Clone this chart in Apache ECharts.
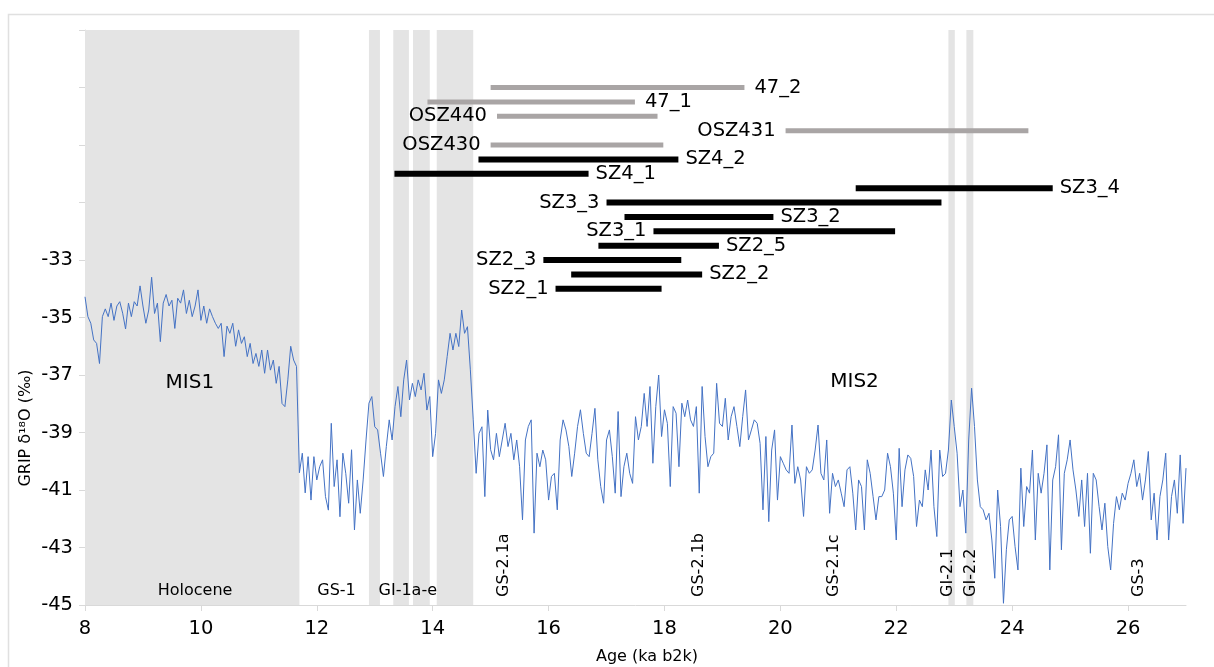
<!DOCTYPE html>
<html>
<head>
<meta charset="utf-8">
<script src="https://cdn.jsdelivr.net/npm/echarts@6/dist/echarts.min.js"></script>
<style>
html,body{margin:0;padding:0;background:#fff;}
#c{width:1214px;height:667px;}
</style>
</head>
<body>
<div id="c"></div>
<script>
// ---------------- DATA ----------------
// GRIP d18O record, sampled every 0.05 ka from 8.00 ka b2k
const AGE_START = 8.0;
const AGE_STEP = 0.05;
const d18O = [
  // 8.00 - 8.45
  -34.28, -34.97, -35.2, -35.78, -35.9, -36.6, -34.97, -34.7, -34.97, -34.5,
  // 8.50 - 8.95
  -35.1, -34.6, -34.45, -34.85, -35.4, -34.5, -34.97, -34.45, -34.6, -33.9,
  // 9.00 - 9.45
  -34.6, -35.2, -34.74, -33.6, -34.86, -34.5, -35.84, -34.5, -34.2, -34.6,
  // 9.50 - 9.95
  -34.4, -35.38, -34.33, -34.5, -34.04, -34.86, -34.4, -34.97, -34.6, -34.04,
  // 10.00 - 10.45
  -35.1, -34.6, -35.2, -34.7, -34.97, -35.2, -35.38, -35.2, -36.36, -35.3,
  // 10.50 - 10.95
  -35.55, -35.2, -36.0, -35.43, -35.9, -35.67, -36.36, -35.9, -36.6, -36.25,
  // 11.00 - 11.45
  -36.7, -36.13, -36.94, -36.13, -36.83, -36.48, -37.29, -36.7, -37.99, -38.1,
  // 11.50 - 11.70
  -37.17, -36.0, -36.48, -36.7, -40.4,
  // 11.75 - 12.20
  -39.72, -41.1, -39.84, -41.35, -39.84, -40.65, -40.19, -39.95, -41.23, -41.7,
  // 12.25 - 12.70
  -38.68, -40.88, -39.95, -41.93, -39.72, -40.42, -41.46, -39.6, -42.39, -40.65,
  // 12.75 - 13.20
  -41.81, -40.65, -39.26, -37.98, -37.75, -38.8, -38.91, -39.72, -40.53, -39.49,
  // 13.25 - 13.70
  -38.56, -39.26, -38.1, -37.4, -38.45, -37.17, -36.48, -37.87, -37.29, -37.75,
  // 13.75 - 14.20
  -37.17, -37.52, -36.94, -38.22, -37.75, -39.84, -39.03, -37.17, -37.64, -37.17,
  // 14.25 - 14.70
  -36.36, -35.55, -36.13, -35.55, -36.01, -34.74, -35.55, -35.32, -36.82, -38.56,
  // 14.75 - 15.20
  -40.42, -39.03, -38.8, -41.23, -38.22, -39.6, -39.95, -39.03, -39.84, -39.26,
  // 15.25 - 15.45
  -38.68, -39.49, -39.03, -39.95, -39.26,
  // 15.50 - 15.95
  -40.19, -42.04, -39.26, -38.79, -38.56, -42.5, -39.72, -40.19, -39.61, -39.95,
  // 16.00 - 16.45
  -41.35, -40.53, -40.42, -41.69, -39.26, -38.56, -38.91, -39.49, -40.53, -39.72,
  // 16.50 - 16.95
  -38.79, -38.21, -39.03, -39.72, -39.84, -39.03, -38.16, -39.95, -40.88, -41.46,
  // 17.00 - 17.45
  -39.26, -38.91, -39.84, -41.11, -38.27, -41.23, -40.19, -39.72, -40.42, -40.77,
  // 17.50 - 17.95
  -38.45, -39.26, -38.79, -37.64, -38.79, -37.4, -40.07, -38.1, -37.0, -39.14,
  // 18.00 - 18.45
  -38.21, -38.68, -40.88, -38.1, -38.33, -40.19, -37.98, -38.45, -37.87, -38.56,
  // 18.50 - 18.95
  -38.79, -38.1, -41.11, -37.4, -39.14, -40.19, -39.84, -39.72, -37.29, -38.68,
  // 19.00 - 19.45
  -38.79, -37.81, -39.26, -38.45, -38.1, -38.79, -39.49, -38.45, -37.52, -39.26,
  // 19.50 - 19.95
  -38.91, -38.56, -38.68, -39.38, -41.69, -39.14, -42.1, -39.61, -38.91, -41.35,
  // 20.00 - 20.45
  -39.84, -40.07, -40.3, -40.42, -38.74, -40.77, -40.19, -40.65, -41.92, -40.19,
  // 20.50 - 20.95
  -40.42, -40.3, -39.61, -38.74, -40.42, -40.65, -39.26, -41.81, -40.42, -40.88,
  // 21.00 - 21.35
  -40.65, -41.11, -41.58, -40.3, -40.19, -41.11, -42.39, -40.65,
  // 21.40 - 21.85
  -40.88, -42.39, -39.95, -40.42, -41.23, -42.04, -41.23, -41.23, -41.0, -39.72,
  // 21.90 - 22.35
  -40.19, -41.11, -42.74, -39.55, -41.58, -40.3, -39.78, -39.9, -40.53, -42.27,
  // 22.40 - 22.85
  -41.35, -41.58, -40.3, -41.0, -39.61, -41.58, -42.62, -39.61, -40.53, -40.42,
  // 22.90 - 23.35
  -39.61, -37.87, -38.79, -39.72, -41.58, -41.0, -42.5, -39.26, -37.46, -38.79,
  // 23.40 - 23.85
  -40.65, -41.58, -41.69, -42.04, -41.81, -42.74, -44.07, -41.0, -42.27, -44.94,
  // 23.90 - 24.35
  -43.08, -42.04, -41.92, -42.97, -43.78, -40.24, -42.27, -40.88, -41.11, -39.61,
  // 24.40 - 24.85
  -42.74, -40.42, -41.11, -40.42, -39.43, -43.78, -40.65, -40.19, -39.08, -43.08,
  // 24.90 - 25.35
  -40.42, -39.95, -39.26, -40.3, -41.0, -41.92, -40.65, -42.27, -40.42, -43.2,
  // 25.40 - 25.85
  -40.42, -40.65, -41.58, -42.39, -41.46, -42.97, -43.78, -42.16, -41.23, -41.69,
  // 25.90 - 26.35
  -41.11, -41.35, -40.77, -40.42, -39.95, -40.88, -40.42, -41.35, -40.65, -39.66,
  // 26.40 - 26.85
  -42.04, -41.11, -42.74, -41.23, -40.65, -39.72, -42.74, -41.23, -40.65, -41.81,
  // 26.90 - 27.00
  -39.78, -42.16, -40.24
];

// Shaded stadial/interstadial bands (ka b2k)
const bandStart = [8.0, 12.9, 13.32, 13.66, 14.07, 22.9, 23.21];
const bandEnd   = [11.7, 13.09, 13.59, 13.95, 14.7, 23.01, 23.33];

// Sample age ranges (ka b2k)
const sampleNames = ['47_2', '47_1', 'OSZ440', 'OSZ431', 'OSZ430', 'SZ4_2', 'SZ4_1', 'SZ3_4',
                     'SZ3_3', 'SZ3_2', 'SZ3_1', 'SZ2_5', 'SZ2_3', 'SZ2_2', 'SZ2_1'];
const sampleStart = [15.0, 13.91, 15.11, 20.09, 15.0, 14.79, 13.34, 21.3,
                     17.0, 17.31, 17.81, 16.86, 15.91, 16.39, 16.12];
const sampleEnd   = [19.38, 17.49, 17.88, 24.28, 17.98, 18.24, 16.69, 24.7,
                     22.78, 19.88, 21.98, 18.94, 18.29, 18.65, 17.95];
const sampleLevel = [-27, -27.5, -28, -28.5, -29, -29.5, -30, -30.5,
                     -31, -31.5, -32, -32.5, -33, -33.5, -34];
const sampleGroup = ['grey', 'grey', 'grey', 'grey', 'grey', 'black', 'black', 'black',
                     'black', 'black', 'black', 'black', 'black', 'black', 'black'];

// Tick labels
const xTicks = [8, 10, 12, 14, 16, 18, 20, 22, 24, 26];
const yTicks = [-45, -43, -41, -39, -37, -35, -33, -31, -29, -27, -25];
const yTickLabels = [-45, -43, -41, -39, -37, -35, -33];

// Period annotations
const periodNames = ['MIS1', 'MIS2', 'Holocene', 'GS-1', 'GI-1a-e',
                     'GS-2.1a', 'GS-2.1b', 'GS-2.1c', 'GI-2.1', 'GI-2.2', 'GS-3'];

// ---------------- LAYOUT / STYLE ----------------
const FONT = '"DejaVu Sans", Verdana, sans-serif';
const labelSide = ['right', 'right', 'left', 'left', 'left', 'right', 'right', 'right',
                   'left', 'right', 'left', 'right', 'left', 'right', 'left'];
const periodPos = [
  [9.81, -37.28, 0, 20], [21.28, -37.24, 0, 20], [9.9, -44.51, 0, 16],
  [12.34, -44.51, 0, 16], [13.57, -44.51, 0, 16],
  [15.22, -44.72, 90, 16], [18.6, -44.72, 90, 16], [20.93, -44.72, 90, 16],
  [22.89, -44.72, 90, 16], [23.28, -44.72, 90, 16], [26.19, -44.72, 90, 16]
];

const ages = d18O.map((_, i) => +(AGE_START + i * AGE_STEP).toFixed(2));
const lineData = ages.map((a, i) => [a, d18O[i]]);
const bandData = bandStart.map((s, i) => [{ xAxis: s }, { xAxis: bandEnd[i] }]);
const sampleData = sampleNames.map((n, i) => [sampleStart[i], sampleEnd[i], sampleLevel[i], i]);
const periodData = periodNames.map((n, i) => [periodPos[i][0], periodPos[i][1], i]);

const chart = echarts.init(document.getElementById('c'), null, { renderer: 'canvas' });

const option = {
  animation: false,
  backgroundColor: '#ffffff',
  textStyle: { fontFamily: FONT },
  grid: { left: 85, right: 28, top: 30, bottom: 62, containLabel: false },
  xAxis: {
    type: 'value', min: 8, max: 27,
    axisLine: { show: true, lineStyle: { color: '#d9d9d9', width: 1 } },
    axisTick: { show: true, length: 6, lineStyle: { color: '#d9d9d9' }, customValues: xTicks },
    axisLabel: { customValues: xTicks, margin: 14, fontSize: 19.5, color: '#000', fontFamily: FONT },
    splitLine: { show: false }
  },
  yAxis: {
    type: 'value', min: -45, max: -25,
    axisLine: { show: true, lineStyle: { color: '#d9d9d9', width: 1 } },
    axisTick: { show: true, length: 6, lineStyle: { color: '#d9d9d9' }, customValues: yTicks },
    axisLabel: { customValues: yTickLabels, margin: 12, fontSize: 19.5, color: '#000', fontFamily: FONT },
    splitLine: { show: false }
  },
  graphic: [
    { type: 'rect', z: -10, shape: { x: 8.5, y: 14.5, width: 1240, height: 700 },
      style: { fill: 'none', stroke: '#e0e0e0', lineWidth: 1.5 } },
    { type: 'text', x: 26, y: 428, rotation: Math.PI / 2,
      style: { text: 'GRIP δ¹⁸O (‰)', font: '16px ' + FONT, fill: '#000', align: 'center', verticalAlign: 'middle' } },
    { type: 'text', x: 647, y: 657,
      style: { text: 'Age (ka b2k)', font: '16px ' + FONT, fill: '#000', align: 'center', verticalAlign: 'middle' } }
  ],
  series: [
    {
      name: 'bands', type: 'line', data: [], z: 1, silent: true,
      markArea: { silent: true, itemStyle: { color: '#e4e4e4' }, data: bandData }
    },
    {
      name: 'GRIP', type: 'line', data: lineData, z: 3, showSymbol: false, symbol: 'none',
      sampling: 'none', lineStyle: { color: '#4472c4', width: 1 }, silent: true
    },
    {
      name: 'samples', type: 'custom', z: 5, data: sampleData, silent: true,
      renderItem: function (params, api) {
        const i = api.value(3);
        const s = api.coord([api.value(0), api.value(2)]);
        const e = api.coord([api.value(1), api.value(2)]);
        const grey = sampleGroup[i] === 'grey';
        const h = grey ? 5 : 6;
        const gap = grey ? 10 : 7;
        const left = labelSide[i] === 'left';
        return {
          type: 'group',
          children: [
            { type: 'rect', shape: { x: s[0], y: s[1] - h / 2, width: e[0] - s[0], height: h },
              style: { fill: grey ? '#a9a5a5' : '#000000' } },
            { type: 'text', x: left ? s[0] - gap : e[0] + gap, y: s[1],
              style: { text: sampleNames[i], font: '19.5px ' + FONT, fill: '#000',
                       align: left ? 'right' : 'left', verticalAlign: 'middle' } }
          ]
        };
      }
    },
    {
      name: 'periods', type: 'custom', z: 4, data: periodData, silent: true,
      renderItem: function (params, api) {
        const i = api.value(2);
        const p = api.coord([api.value(0), api.value(1)]);
        const rot = periodPos[i][2];
        return {
          type: 'text', x: p[0], y: p[1], rotation: rot * Math.PI / 180,
          style: { text: periodNames[i], font: periodPos[i][3] + 'px ' + FONT, fill: '#000',
                   align: rot ? 'left' : 'center', verticalAlign: 'middle' }
        };
      }
    }
  ]
};
chart.setOption(option);
</script>
</body>
</html>
